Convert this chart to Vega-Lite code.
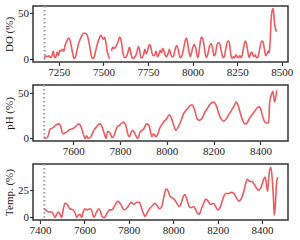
{
  "$schema": "https://vega.github.io/schema/vega-lite/v6.json",
  "background": "white",
  "padding": {"left": 2, "top": 4, "right": 6, "bottom": 0},
  "spacing": 4,
  "config": {
    "font": "Liberation Serif",
    "view": {"stroke": "#333333", "strokeWidth": 1.5},
    "axis": {
      "labelFont": "Liberation Serif",
      "titleFont": "Liberation Serif",
      "labelFontSize": 11,
      "titleFontSize": 11,
      "titleFontWeight": "normal",
      "labelColor": "#222222",
      "titleColor": "#222222",
      "domain": false,
      "grid": false,
      "tickColor": "#333333",
      "tickSize": 3.5,
      "tickWidth": 1.2,
      "labelPadding": 1
    },
    "axisY": {"titlePadding": 3},
    "axisX": {"labelFlush": false}
  },
  "datasets": {
    "do": [
      {"t": 7170, "v": 1}, {"t": 7175, "v": 4}, {"t": 7185, "v": 3}, {"t": 7195, "v": 4}, {"t": 7200, "v": 2},
      {"t": 7210, "v": 3}, {"t": 7218, "v": 9}, {"t": 7225, "v": 3}, {"t": 7232, "v": 2}, {"t": 7240, "v": 8},
      {"t": 7248, "v": 4}, {"t": 7255, "v": 10}, {"t": 7262, "v": 9}, {"t": 7270, "v": 11}, {"t": 7278, "v": 9},
      {"t": 7285, "v": 15}, {"t": 7295, "v": 20}, {"t": 7305, "v": 23}, {"t": 7312, "v": 21}, {"t": 7320, "v": 14},
      {"t": 7328, "v": 6}, {"t": 7335, "v": 1}, {"t": 7342, "v": 2}, {"t": 7350, "v": 8}, {"t": 7360, "v": 17},
      {"t": 7370, "v": 22}, {"t": 7380, "v": 26}, {"t": 7390, "v": 28.5}, {"t": 7400, "v": 28}, {"t": 7408, "v": 27},
      {"t": 7415, "v": 22}, {"t": 7425, "v": 12}, {"t": 7432, "v": 4}, {"t": 7440, "v": 1}, {"t": 7448, "v": 2},
      {"t": 7455, "v": 8}, {"t": 7465, "v": 16}, {"t": 7475, "v": 22}, {"t": 7485, "v": 26}, {"t": 7492, "v": 24},
      {"t": 7500, "v": 22}, {"t": 7507, "v": 24}, {"t": 7515, "v": 17}, {"t": 7522, "v": 8}, {"t": 7530, "v": 3},
      {"t": 7535, "v": 1}, {"t": 7540, "v": null}, {"t": 7545, "v": 9}, {"t": 7552, "v": 13}, {"t": 7560, "v": 12},
      {"t": 7570, "v": 14}, {"t": 7580, "v": 18}, {"t": 7590, "v": 24}, {"t": 7598, "v": 22}, {"t": 7605, "v": 13},
      {"t": 7612, "v": 5}, {"t": 7620, "v": 2}, {"t": 7628, "v": 3}, {"t": 7638, "v": 8}, {"t": 7645, "v": 13},
      {"t": 7652, "v": 9}, {"t": 7660, "v": 2}, {"t": 7668, "v": 1}, {"t": 7678, "v": 3}, {"t": 7688, "v": 8},
      {"t": 7696, "v": 14}, {"t": 7703, "v": 10}, {"t": 7710, "v": 2}, {"t": 7718, "v": 2}, {"t": 7725, "v": 5},
      {"t": 7732, "v": 11}, {"t": 7740, "v": 6}, {"t": 7748, "v": 10}, {"t": 7758, "v": 16}, {"t": 7765, "v": 14},
      {"t": 7772, "v": 7}, {"t": 7780, "v": 4}, {"t": 7788, "v": 5}, {"t": 7795, "v": 9}, {"t": 7802, "v": 3},
      {"t": 7810, "v": 5}, {"t": 7818, "v": 10}, {"t": 7825, "v": 7}, {"t": 7832, "v": 12}, {"t": 7840, "v": 9},
      {"t": 7848, "v": 4}, {"t": 7855, "v": 3}, {"t": 7862, "v": 6}, {"t": 7870, "v": 11}, {"t": 7877, "v": 6},
      {"t": 7885, "v": 3}, {"t": 7892, "v": 3}, {"t": 7900, "v": 9}, {"t": 7910, "v": 15}, {"t": 7918, "v": 12},
      {"t": 7925, "v": 5}, {"t": 7932, "v": 2}, {"t": 7940, "v": 4}, {"t": 7948, "v": 10}, {"t": 7958, "v": 20},
      {"t": 7965, "v": 23}, {"t": 7972, "v": 18}, {"t": 7980, "v": 8}, {"t": 7987, "v": 3}, {"t": 7995, "v": 8},
      {"t": 8003, "v": 14}, {"t": 8010, "v": 16}, {"t": 8018, "v": 12}, {"t": 8025, "v": 4}, {"t": 8030, "v": 2},
      {"t": 8040, "v": 14}, {"t": 8048, "v": 24}, {"t": 8056, "v": 23}, {"t": 8064, "v": 15}, {"t": 8072, "v": 5},
      {"t": 8078, "v": 2}, {"t": 8088, "v": 8}, {"t": 8096, "v": 15}, {"t": 8104, "v": 17}, {"t": 8112, "v": 12},
      {"t": 8120, "v": 4}, {"t": 8128, "v": 6}, {"t": 8136, "v": 15}, {"t": 8144, "v": 18}, {"t": 8152, "v": 17},
      {"t": 8160, "v": 10}, {"t": 8168, "v": 3}, {"t": 8175, "v": 2}, {"t": 8185, "v": 10}, {"t": 8193, "v": 18},
      {"t": 8200, "v": 20}, {"t": 8208, "v": 16}, {"t": 8215, "v": 5}, {"t": 8222, "v": 1}, {"t": 8230, "v": 3},
      {"t": 8237, "v": 2}, {"t": 8243, "v": 5}, {"t": 8250, "v": 3}, {"t": 8258, "v": 2}, {"t": 8265, "v": 4},
      {"t": 8272, "v": 2}, {"t": 8280, "v": 6}, {"t": 8287, "v": 14}, {"t": 8295, "v": 20}, {"t": 8302, "v": 17},
      {"t": 8310, "v": 8}, {"t": 8318, "v": 2}, {"t": 8325, "v": 6}, {"t": 8332, "v": 8}, {"t": 8338, "v": 5},
      {"t": 8345, "v": 3}, {"t": 8352, "v": 5}, {"t": 8358, "v": 2}, {"t": 8365, "v": 2}, {"t": 8372, "v": 7},
      {"t": 8380, "v": 15}, {"t": 8388, "v": 20}, {"t": 8395, "v": 19}, {"t": 8402, "v": 12}, {"t": 8410, "v": 4},
      {"t": 8418, "v": 6}, {"t": 8425, "v": 9}, {"t": 8430, "v": 7}, {"t": 8435, "v": 20}, {"t": 8440, "v": 42},
      {"t": 8445, "v": 52}, {"t": 8450, "v": 55}, {"t": 8455, "v": 50}, {"t": 8460, "v": 38}, {"t": 8465, "v": 33},
      {"t": 8470, "v": 30}
    ],
    "ph": [
      {"t": 7476, "v": 2}, {"t": 7484, "v": 0}, {"t": 7493, "v": 3}, {"t": 7500, "v": 10}, {"t": 7514, "v": 12},
      {"t": 7528, "v": 15}, {"t": 7538, "v": 16}, {"t": 7547, "v": 13}, {"t": 7552, "v": 7}, {"t": 7557, "v": 5},
      {"t": 7571, "v": 7}, {"t": 7586, "v": 10}, {"t": 7600, "v": 11}, {"t": 7614, "v": 14}, {"t": 7624, "v": 16},
      {"t": 7633, "v": 13}, {"t": 7643, "v": 5}, {"t": 7650, "v": 0}, {"t": 7657, "v": 3}, {"t": 7664, "v": 0},
      {"t": 7676, "v": 2}, {"t": 7686, "v": 8}, {"t": 7700, "v": 13}, {"t": 7714, "v": 16}, {"t": 7721, "v": 14},
      {"t": 7733, "v": 5}, {"t": 7740, "v": 0}, {"t": 7747, "v": 8}, {"t": 7757, "v": 6}, {"t": 7767, "v": 1},
      {"t": 7776, "v": 4}, {"t": 7786, "v": 12}, {"t": 7800, "v": 15}, {"t": 7814, "v": 18}, {"t": 7824, "v": 15},
      {"t": 7833, "v": 5}, {"t": 7840, "v": 2}, {"t": 7850, "v": 8}, {"t": 7854, "v": 9}, {"t": 7864, "v": 5},
      {"t": 7876, "v": 0}, {"t": 7886, "v": 7}, {"t": 7900, "v": 10}, {"t": 7914, "v": 16}, {"t": 7924, "v": 14},
      {"t": 7936, "v": 2}, {"t": 7943, "v": 5}, {"t": 7953, "v": 2}, {"t": 7960, "v": 4}, {"t": 7971, "v": 12},
      {"t": 7986, "v": 18}, {"t": 8000, "v": 22}, {"t": 8010, "v": 26}, {"t": 8019, "v": 23}, {"t": 8029, "v": 15},
      {"t": 8039, "v": 9}, {"t": 8047, "v": 12}, {"t": 8057, "v": 17}, {"t": 8071, "v": 27}, {"t": 8086, "v": 32},
      {"t": 8100, "v": 36}, {"t": 8107, "v": 37}, {"t": 8117, "v": 33}, {"t": 8129, "v": 22}, {"t": 8139, "v": 20},
      {"t": 8150, "v": 22}, {"t": 8161, "v": 28}, {"t": 8171, "v": 32}, {"t": 8186, "v": 38}, {"t": 8200, "v": 40},
      {"t": 8210, "v": 37}, {"t": 8221, "v": 28}, {"t": 8231, "v": 22}, {"t": 8243, "v": 19}, {"t": 8253, "v": 21},
      {"t": 8264, "v": 26}, {"t": 8279, "v": 32}, {"t": 8290, "v": 37}, {"t": 8296, "v": 40}, {"t": 8304, "v": 37},
      {"t": 8314, "v": 28}, {"t": 8324, "v": 20}, {"t": 8333, "v": 16}, {"t": 8343, "v": 17}, {"t": 8353, "v": 22},
      {"t": 8364, "v": 26}, {"t": 8379, "v": 31}, {"t": 8393, "v": 35}, {"t": 8400, "v": 33}, {"t": 8410, "v": 24},
      {"t": 8419, "v": 18}, {"t": 8429, "v": 17}, {"t": 8436, "v": 17}, {"t": 8439, "v": 38}, {"t": 8447, "v": 48},
      {"t": 8453, "v": 52}, {"t": 8461, "v": 40}, {"t": 8470, "v": 53}
    ],
    "temp": [
      {"t": 7419, "v": 8}, {"t": 7430, "v": 6}, {"t": 7440, "v": 5}, {"t": 7452, "v": 5}, {"t": 7460, "v": 3},
      {"t": 7467, "v": 0}, {"t": 7475, "v": 3}, {"t": 7482, "v": 5}, {"t": 7490, "v": 3}, {"t": 7497, "v": 0},
      {"t": 7505, "v": 8}, {"t": 7512, "v": 13}, {"t": 7522, "v": 12}, {"t": 7534, "v": 8}, {"t": 7549, "v": 7},
      {"t": 7560, "v": 3}, {"t": 7564, "v": 0}, {"t": 7572, "v": 2}, {"t": 7579, "v": 3}, {"t": 7587, "v": 0},
      {"t": 7594, "v": 5}, {"t": 7601, "v": 8}, {"t": 7613, "v": 7}, {"t": 7624, "v": 8}, {"t": 7631, "v": 7},
      {"t": 7643, "v": 0}, {"t": 7654, "v": 5}, {"t": 7664, "v": 8}, {"t": 7673, "v": 5}, {"t": 7679, "v": 1},
      {"t": 7691, "v": 0}, {"t": 7699, "v": 3}, {"t": 7713, "v": 7}, {"t": 7724, "v": 7}, {"t": 7739, "v": 12},
      {"t": 7751, "v": 15}, {"t": 7763, "v": 12}, {"t": 7778, "v": 7}, {"t": 7788, "v": 8}, {"t": 7803, "v": 12},
      {"t": 7810, "v": 14}, {"t": 7822, "v": 12}, {"t": 7837, "v": 14}, {"t": 7848, "v": 14}, {"t": 7855, "v": 10},
      {"t": 7867, "v": 3}, {"t": 7873, "v": 1}, {"t": 7882, "v": 4}, {"t": 7893, "v": 8}, {"t": 7907, "v": 11},
      {"t": 7915, "v": 13}, {"t": 7927, "v": 11}, {"t": 7937, "v": 8}, {"t": 7948, "v": 10}, {"t": 7957, "v": 18},
      {"t": 7967, "v": 26}, {"t": 7975, "v": 25}, {"t": 7987, "v": 19}, {"t": 7997, "v": 18}, {"t": 8007, "v": 16},
      {"t": 8019, "v": 12}, {"t": 8027, "v": 10}, {"t": 8034, "v": 12}, {"t": 8043, "v": 18}, {"t": 8052, "v": 21},
      {"t": 8061, "v": 17}, {"t": 8072, "v": 10}, {"t": 8082, "v": 9}, {"t": 8091, "v": 10}, {"t": 8099, "v": 8},
      {"t": 8109, "v": 4}, {"t": 8117, "v": 3}, {"t": 8127, "v": 8}, {"t": 8139, "v": 14}, {"t": 8146, "v": 17},
      {"t": 8157, "v": 15}, {"t": 8169, "v": 12}, {"t": 8181, "v": 13}, {"t": 8191, "v": 10}, {"t": 8201, "v": 7},
      {"t": 8213, "v": 10}, {"t": 8225, "v": 18}, {"t": 8236, "v": 22}, {"t": 8251, "v": 22}, {"t": 8261, "v": 23},
      {"t": 8273, "v": 22}, {"t": 8285, "v": 18}, {"t": 8296, "v": 15}, {"t": 8306, "v": 17}, {"t": 8318, "v": 24},
      {"t": 8325, "v": 30}, {"t": 8333, "v": 35}, {"t": 8345, "v": 33}, {"t": 8355, "v": 33}, {"t": 8366, "v": 30},
      {"t": 8378, "v": 26}, {"t": 8385, "v": 25}, {"t": 8396, "v": 28}, {"t": 8407, "v": 35}, {"t": 8414, "v": 37},
      {"t": 8420, "v": 30}, {"t": 8425, "v": 24}, {"t": 8430, "v": 36}, {"t": 8434, "v": 43}, {"t": 8440, "v": 46},
      {"t": 8446, "v": 35}, {"t": 8452, "v": 15}, {"t": 8455, "v": 2}, {"t": 8460, "v": 12}, {"t": 8465, "v": 30},
      {"t": 8470, "v": 37}
    ]
  },
  "vconcat": [
    {
      "width": 255,
      "height": 56,
      "layer": [
        {
          "data": {"values": [{"t": 7170}]},
          "mark": {"type": "rule", "color": "#999999", "strokeWidth": 2, "strokeDash": [1.5, 2.5]},
          "encoding": {"x": {"field": "t", "type": "quantitative"}}
        },
        {
          "data": {"name": "do"},
          "mark": {"type": "line", "color": "#ec5b5e", "strokeWidth": 1.6, "interpolate": "monotone", "invalid": "break-paths-show-domains"},
          "encoding": {
            "x": {"field": "t", "type": "quantitative", "title": null,
                  "scale": {"domain": [7105, 8535], "nice": false, "zero": false},
                  "axis": {"values": [7250, 7500, 7750, 8000, 8250, 8500], "format": "d"}},
            "y": {"field": "v", "type": "quantitative", "title": "DO (%)",
                  "scale": {"domain": [-2.75, 57.75], "nice": false},
                  "axis": {"values": [0, 50], "format": "d"}}
          }
        }
      ]
    },
    {
      "width": 255,
      "height": 56,
      "layer": [
        {
          "data": {"values": [{"t": 7476}]},
          "mark": {"type": "rule", "color": "#999999", "strokeWidth": 2, "strokeDash": [1.5, 2.5]},
          "encoding": {"x": {"field": "t", "type": "quantitative"}}
        },
        {
          "data": {"name": "ph"},
          "mark": {"type": "line", "color": "#ec5b5e", "strokeWidth": 1.6, "interpolate": "monotone"},
          "encoding": {
            "x": {"field": "t", "type": "quantitative", "title": null,
                  "scale": {"domain": [7428, 8518], "nice": false, "zero": false},
                  "axis": {"values": [7600, 7800, 8000, 8200, 8400], "format": "d"}},
            "y": {"field": "v", "type": "quantitative", "title": "pH (%)",
                  "scale": {"domain": [-2.8, 58.8], "nice": false},
                  "axis": {"values": [0, 50], "format": "d"}}
          }
        }
      ]
    },
    {
      "width": 255,
      "height": 56,
      "layer": [
        {
          "data": {"values": [{"t": 7419}]},
          "mark": {"type": "rule", "color": "#999999", "strokeWidth": 2, "strokeDash": [1.5, 2.5]},
          "encoding": {"x": {"field": "t", "type": "quantitative"}}
        },
        {
          "data": {"name": "temp"},
          "mark": {"type": "line", "color": "#ec5b5e", "strokeWidth": 1.6, "interpolate": "monotone"},
          "encoding": {
            "x": {"field": "t", "type": "quantitative", "title": null,
                  "scale": {"domain": [7368, 8517], "nice": false, "zero": false},
                  "axis": {"values": [7400, 7600, 7800, 8000, 8200, 8400], "format": "d"}},
            "y": {"field": "v", "type": "quantitative", "title": "Temp. (%)",
                  "scale": {"domain": [-2.3, 49], "nice": false},
                  "axis": {"values": [0, 25], "format": "d"}}
          }
        }
      ]
    }
  ],
  "resolve": {"scale": {"x": "independent", "y": "independent"}}
}
